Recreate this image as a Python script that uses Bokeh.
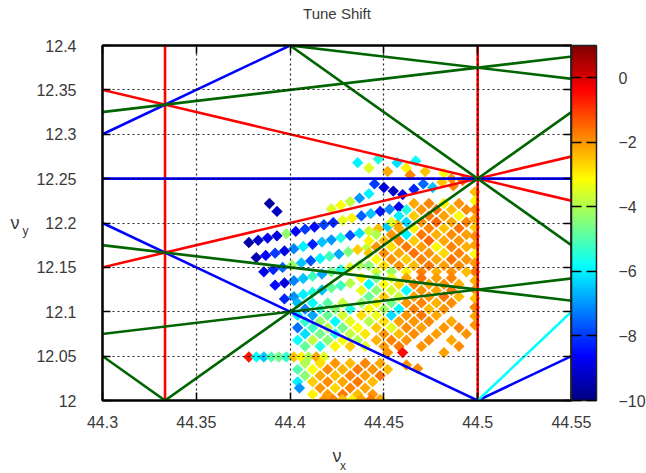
import numpy as np
from bokeh.plotting import figure
from bokeh.models import (ColumnDataSource, LinearColorMapper, ColorBar, FixedTicker,
                          LinearAxis, Range1d)
from bokeh.transform import transform
from bokeh.embed import file_html
from bokeh.resources import INLINE

# ---------------------------------------------------------------- axes
x_ticks = [44.3, 44.35, 44.4, 44.45, 44.5, 44.55]
x_tick_labels = ["44.3", "44.35", "44.4", "44.45", "44.5", "44.55"]
y_ticks = [12.0, 12.05, 12.1, 12.15, 12.2, 12.25, 12.3, 12.35, 12.4]
y_tick_labels = ["12", "12.05", "12.1", "12.15", "12.2", "12.25", "12.3", "12.35", "12.4"]
cbar_ticks = [-10, -8, -6, -4, -2, 0]
cbar_low, cbar_high = -10, 1

# ---------------------------------------------------------------- resonance lines  a*nux + b*nuy = c
res_a = [3, 2, 1, 1, 0, 2, 2, 2, 2, 1, -1, 3, 3, 3, 1, -1]
res_b = [0, 0, 2, -2, 4, -2, 2, -2, -1, 4, 4, 2, -2, 2, 4, 4]
res_c = [133, 89, 69, 20, 49, 64, 113, 65, 77, 94, 5, 158, 109, 157, 93, 4]
res_color = ["red", "red", "red", "red", "blue", "blue", "blue", "blue", "cyan",
             "darkgreen", "darkgreen", "darkgreen", "darkgreen", "darkgreen",
             "darkgreen", "darkgreen"]

# ---------------------------------------------------------------- tune footprint
# upper band (diagonal rows of low-amplitude particles)
band_x = [44.389, 44.393,
          44.378, 44.383, 44.388, 44.393, 44.398, 44.403, 44.408, 44.413, 44.418,
          44.423, 44.428, 44.433, 44.438, 44.443, 44.448, 44.453, 44.458,
          44.382, 44.387, 44.392, 44.397, 44.402, 44.407, 44.412, 44.417,
          44.422, 44.427, 44.432, 44.437, 44.442, 44.447, 44.452, 44.457,
          44.386, 44.391, 44.396, 44.401, 44.406, 44.411, 44.416, 44.421,
          44.426, 44.431, 44.436, 44.441,
          44.392, 44.397, 44.402, 44.407, 44.412, 44.417, 44.422, 44.427,
          44.432, 44.437,
          44.397, 44.402, 44.407, 44.412, 44.417, 44.422, 44.427, 44.432]
band_y = [12.222, 12.213,
          12.178, 12.1805, 12.183, 12.1855, 12.188, 12.1905, 12.193, 12.1955, 12.198,
          12.2005, 12.203, 12.2055, 12.208, 12.2105, 12.213, 12.2155, 12.218,
          12.161, 12.1635, 12.166, 12.1685, 12.171, 12.1735, 12.176, 12.1785,
          12.181, 12.1835, 12.186, 12.1885, 12.191, 12.1935, 12.196, 12.1985,
          12.145, 12.1475, 12.150, 12.1525, 12.155, 12.1575, 12.160, 12.1625,
          12.165, 12.1675, 12.170, 12.1725,
          12.130, 12.1325, 12.135, 12.1375, 12.140, 12.1425, 12.145, 12.1475,
          12.150, 12.1525,
          12.1145, 12.117, 12.1195, 12.122, 12.1245, 12.127, 12.1295, 12.132]
band_v = [-9.6, -9.3,
          -9.6, -9.2, -8.8, -9.0, -4.3, -8.7, -8.0, -8.5, -7.9,
          -8.2, -3.4, -3.0, -7.6, -6.5, -8.4, -7.2, -8.8,
          -9.4, -8.6, -8.0, -8.9, -7.2, -6.0, -8.3, -6.5,
          -7.0, -5.6, -7.8, -6.2, -3.6, -2.4, -6.4, -2.2,
          -8.8, -8.2, -7.5, -4.2, -6.5, -7.8, -6.0, -5.2,
          -6.8, -4.5, -2.6, -3.8,
          -8.5, -9.0, -7.2, -6.5, -5.2, -6.8, -4.6, -5.5,
          -3.4, -4.0,
          -8.2, -7.0, -6.0, -5.5, -6.5, -4.8, -5.2, -3.9]

# particles above the coupling line, below nux + 2 nuy = 69
top_x = [44.436, 44.442, 44.447, 44.452, 44.457, 44.462, 44.467, 44.464, 44.472,
         44.482, 44.445, 44.450, 44.455, 44.460, 44.466, 44.471, 44.476, 44.442,
         44.437, 44.432, 44.427, 44.422, 44.481, 44.486, 44.487, 44.492]
top_y = [12.268, 12.262, 12.272, 12.258, 12.268, 12.262, 12.270, 12.254, 12.258,
         12.256, 12.244, 12.240, 12.236, 12.232, 12.238, 12.244, 12.240, 12.233,
         12.228, 12.224, 12.220, 12.216, 12.246, 12.250, 12.242, 12.248]
top_v = [-6.0, -3.5, -5.5, -2.2, -6.2, -3.0, -5.8, -1.8, -2.5,
         -3.2, -8.0, -8.8, -9.2, -9.0, -8.2, -7.5, -6.5, -6.0,
         -7.0, -3.8, -3.2, -3.5, -2.5, -2.0, -1.8, -1.5]

# particles sitting on the half-integer line nux = 44.5
col_x = [44.4985] * 16
col_y = [12.235, 12.225, 12.215, 12.205, 12.195, 12.185, 12.175, 12.165,
         12.155, 12.145, 12.135, 12.125, 12.115, 12.105, 12.095, 12.085]
col_v = [-2.4, -3.0, -1.8, -2.2, -2.6, -1.9, -2.1, -3.2,
         -2.0, -1.7, -2.3, -2.0, -2.5, -1.8, -2.2, -2.0]

# large-amplitude core (right side)
core_x = [44.466, 44.474, 44.482, 44.490,
          44.462, 44.470, 44.478, 44.486, 44.494,
          44.458, 44.466, 44.474, 44.482, 44.490,
          44.454, 44.462, 44.470, 44.478, 44.486, 44.494,
          44.458, 44.466, 44.474, 44.482, 44.490,
          44.446, 44.454, 44.462, 44.470, 44.478, 44.486, 44.494,
          44.442, 44.450, 44.458, 44.466, 44.474, 44.482, 44.490,
          44.446, 44.454, 44.462, 44.470, 44.478, 44.486, 44.494,
          44.442, 44.450, 44.458, 44.466, 44.474, 44.482, 44.490,
          44.446, 44.454, 44.462, 44.470, 44.478, 44.486, 44.494,
          44.442, 44.450, 44.458, 44.466, 44.474, 44.482, 44.490,
          44.446, 44.454, 44.462, 44.470, 44.478, 44.486, 44.494,
          44.438, 44.446, 44.454, 44.462, 44.470, 44.478, 44.486,
          44.442, 44.450, 44.458, 44.466, 44.474, 44.482, 44.490,
          44.438, 44.446, 44.454, 44.462, 44.470, 44.478, 44.486,
          44.442, 44.450, 44.458, 44.466, 44.474, 44.482, 44.490,
          44.438, 44.446, 44.454, 44.462, 44.470, 44.478, 44.486,
          44.442, 44.450, 44.458, 44.466, 44.474, 44.482,
          44.438, 44.446, 44.454, 44.462, 44.470, 44.478,
          44.442, 44.450, 44.458, 44.466, 44.474, 44.486,
          44.446, 44.454, 44.462, 44.470, 44.482, 44.490,
          44.450, 44.458, 44.466, 44.478, 44.494,
          44.446, 44.454, 44.462, 44.474, 44.486,
          44.450, 44.458, 44.470, 44.490,
          44.452, 44.460, 44.482]
core_y = [12.222] * 4 + [12.215] * 5 + [12.208] * 5 + [12.201] * 6 + [12.194] * 5 + \
         [12.187] * 7 + [12.180] * 7 + [12.173] * 7 + [12.166] * 7 + [12.159] * 7 + \
         [12.152] * 7 + [12.145] * 7 + [12.138] * 7 + [12.131] * 7 + [12.124] * 7 + \
         [12.117] * 7 + [12.110] * 7 + [12.103] * 6 + [12.096] * 6 + [12.089] * 6 + \
         [12.082] * 6 + [12.075] * 5 + [12.068] * 5 + [12.061] * 4 + [12.054] * 3
core_v = [-2.2, -1.8, -3.0, -2.0,
          -5.5, -2.0, -1.6, -2.4, -1.9,
          -6.0, -2.6, -1.7, -2.1, -3.2,
          -3.5, -6.3, -2.0, -1.5, -2.2, -1.8,
          -2.2, -3.0, -1.8, -2.5, -1.6,
          -4.0, -2.0, -6.0, -1.7, -2.3, -1.9, -2.1,
          -3.0, -2.4, -1.8, -2.6, -1.5, -2.2, -2.0,
          -2.0, -2.8, -1.7, -2.1, -3.1, -1.8, -2.3,
          -2.5, -1.9, -2.2, -1.6, -2.0, -2.7, -1.8,
          -3.2, -2.0, -2.6, -1.8, -2.2, -1.6, -2.0,
          -4.4, -2.8, -2.0, -2.4, -1.7, -2.1, -1.9,
          -3.6, -4.2, -3.0, -1.8, -2.3, -2.0, -2.4,
          -3.0, -4.6, -3.4, -2.2, -1.6, -2.1, -1.8,
          -5.8, -3.2, -2.7, -1.8, -2.2, -1.9, -2.3,
          -3.4, -4.4, -3.6, -5.8, -2.0, -2.2, -1.7,
          -4.8, -2.6, -3.8, -2.1, -2.0, -1.6, -2.4,
          -4.2, -3.0, -4.6, -2.0, -1.8, -2.3, -1.9,
          -3.2, -4.1, -5.9, -1.8, -2.4, -2.0,
          -2.8, -3.3, -6.2, -2.0, -1.7, -2.2,
          -3.9, -2.8, -2.1, -2.0, -1.9, -2.2,
          -2.6, -3.4, -1.9, -2.1, -2.0, -1.8,
          -2.0, -2.4, -1.9, -2.1, -2.0,
          -2.3, -1.8, -2.0, -1.9, -2.2,
          -2.1, -1.7, -2.0, -1.9,
          -2.0, -0.5, -2.1]

# intermediate amplitudes (middle, cyan / green)
mid_x = [44.404, 44.412, 44.420, 44.428,
         44.408, 44.416, 44.424, 44.432,
         44.404, 44.412, 44.420, 44.428,
         44.408, 44.416, 44.424, 44.432,
         44.404, 44.412, 44.420, 44.428, 44.436,
         44.408, 44.416, 44.424, 44.432, 44.440,
         44.404, 44.412, 44.420, 44.428, 44.436,
         44.408, 44.416, 44.424, 44.432, 44.440]
mid_y = [12.110] * 4 + [12.103] * 4 + [12.096] * 4 + [12.089] * 4 + \
        [12.082] * 5 + [12.075] * 5 + [12.068] * 5 + [12.061] * 5
mid_v = [-6.6, -5.8, -4.9, -3.8,
         -7.2, -5.4, -4.4, -5.6,
         -6.0, -6.8, -4.8, -3.6,
         -5.4, -4.2, -5.9, -3.4,
         -7.4, -5.2, -3.9, -4.6, -3.2,
         -6.2, -4.6, -5.5, -3.8, -2.9,
         -5.8, -3.8, -4.4, -3.2, -4.0,
         -4.8, -5.6, -3.0, -2.6, -3.5]

# lower part of the footprint (near nuy = 12)
low_x = [44.378, 44.382, 44.386, 44.390, 44.394, 44.398, 44.402, 44.406, 44.410, 44.414, 44.418,
         44.408, 44.416, 44.424, 44.432, 44.440, 44.448, 44.462, 44.468,
         44.404, 44.412, 44.420, 44.428, 44.436, 44.444, 44.452,
         44.408, 44.416, 44.424, 44.432, 44.440, 44.448,
         44.404, 44.412, 44.420, 44.428, 44.436, 44.444,
         44.405, 44.416, 44.424, 44.432, 44.440,
         44.412, 44.420, 44.428, 44.436, 44.444,
         44.418, 44.423, 44.428, 44.433, 44.438, 44.443, 44.448]
low_y = [12.049] * 11 + [12.042] * 6 + [12.040, 12.036] + [12.035] * 7 + [12.028] * 6 + \
        [12.021] * 6 + [12.014] * 5 + [12.007] * 5 + [12.001] * 7
low_v = [-0.6, -5.8, -6.4, -5.0, -4.6, -5.4, -2.5, -3.0, -4.0, -2.2, -3.4,
         -4.0, -2.8, -2.0, -2.4, -1.8, -2.2, -2.0, -1.9,
         -5.0, -3.2, -1.9, -2.3, -1.7, -2.0, -2.4,
         -4.4, -2.2, -2.5, -1.8, -2.1, -1.6,
         -6.0, -2.6, -1.9, -2.2, -1.7, -2.4,
         -7.0, -2.0, -2.7, -1.8, -2.2,
         -3.0, -2.1, -1.7, -2.4, -2.0,
         -2.0, -1.8, -2.4, -3.0, -2.1, -1.7, -2.2]

# ---------------------------------------------------------------- styling helpers
FONT = "Liberation Sans"
TEXT = "#3a3a3a"


def jet_palette(n=256):
    t = np.linspace(0, 1, n)
    r = np.clip(1.5 - np.abs(4 * t - 3), 0, 1)
    g = np.clip(1.5 - np.abs(4 * t - 2), 0, 1)
    b = np.clip(1.5 - np.abs(4 * t - 1), 0, 1)
    return ["#%02x%02x%02x" % (int(round(255 * a)), int(round(255 * c)), int(round(255 * d)))
            for a, c, d in zip(r, g, b)]


mapper = LinearColorMapper(palette=jet_palette(), low=cbar_low, high=cbar_high)

p = figure(frame_width=469, frame_height=355,
           x_range=Range1d(44.3, 44.55), y_range=Range1d(12.0, 12.4),
           output_backend="svg", toolbar_location=None,
           min_border_left=102, min_border_top=45, min_border_bottom=73,
           min_border_right=0)
p.background_fill_color = "white"
p.border_fill_color = "white"
p.outline_line_color = "black"
p.outline_line_width = 2

# footprint
pts = ColumnDataSource(dict(
    x=band_x + top_x + col_x + core_x + mid_x + low_x,
    y=band_y + top_y + col_y + core_y + mid_y + low_y,
    v=band_v + top_v + col_v + core_v + mid_v + low_v,
))
p.scatter("x", "y", source=pts, marker="square", size=8, angle=np.pi / 4,
          fill_color=transform("v", mapper), line_color=None)

# resonance lines
x0, x1 = 44.2, 44.65
sx0, sy0, sx1, sy1 = [], [], [], []
for a, b, c in zip(res_a, res_b, res_c):
    if b == 0:
        sx0.append(c / a); sx1.append(c / a); sy0.append(11.9); sy1.append(12.5)
    else:
        sx0.append(x0); sx1.append(x1)
        sy0.append((c - a * x0) / b); sy1.append((c - a * x1) / b)
lines = ColumnDataSource(dict(x0=sx0, y0=sy0, x1=sx1, y1=sy1, color=res_color))
p.segment("x0", "y0", "x1", "y1", source=lines, line_color="color", line_width=2.6)

# grid on top, dotted
for g in (p.xgrid, p.ygrid):
    g.grid_line_color = "black"
    g.grid_line_dash = "2 3"
    g.grid_line_width = 1.2
    g.grid_line_alpha = 0.85
    g.level = "overlay"
p.xgrid.ticker = FixedTicker(ticks=x_ticks[1:-1])
p.ygrid.ticker = FixedTicker(ticks=y_ticks[1:-1])


def style_axis(ax, ticks, labels):
    ax.ticker = FixedTicker(ticks=ticks)
    ax.major_label_overrides = {t: l for t, l in zip(ticks, labels)}
    ax.major_tick_in = 8
    ax.major_tick_out = 0
    ax.minor_tick_line_color = None
    ax.major_tick_line_color = "black"
    ax.major_tick_line_width = 1.5
    ax.axis_line_color = "black"
    ax.axis_line_width = 2
    ax.major_label_text_font = FONT
    ax.major_label_text_font_size = "16px"
    ax.major_label_text_color = TEXT


def name_axis(text, size):
    """Axis without ticks that only carries a piece of an axis name."""
    ax = LinearAxis(ticker=FixedTicker(ticks=[]), axis_line_color=None,
                    major_tick_line_color=None, minor_tick_line_color=None,
                    major_label_text_font_size="0px", major_label_standoff=0,
                    major_tick_in=0, major_tick_out=0,
                    axis_label=text, axis_label_standoff=0,
                    axis_label_text_font=FONT, axis_label_text_font_size=size,
                    axis_label_text_font_style="normal",
                    axis_label_text_color=TEXT)
    return ax


style_axis(p.xaxis[0], x_ticks, x_tick_labels)
style_axis(p.yaxis[0], y_ticks, y_tick_labels)
p.xaxis.major_label_standoff = 15
p.yaxis.major_label_standoff = 26

# nu_x below the x axis
nu_x = name_axis("ν", "18px")
nu_x.axis_label_standoff = 15
p.add_layout(nu_x, "below")
sub_x = name_axis("\u2003x", "12px")
sub_x.axis_label_standoff = -10
p.add_layout(sub_x, "below")

# nu_y left of the y axis, written horizontally; the subscript sits on a second line
sub_y = name_axis("\u00a0\ny", "12px")
nu_y = name_axis("ν", "18px")
for ax in (sub_y, nu_y):
    try:
        ax.axis_label_orientation = "horizontal"
    except AttributeError:
        pass
sub_y.axis_label_standoff = 5
nu_y.axis_label_standoff = 0
p.add_layout(sub_y, "left")
p.add_layout(nu_y, "left")

# mirrored ticks on top; its axis name serves as the chart title
top_ax = LinearAxis()
style_axis(top_ax, x_ticks, ["" for _ in x_ticks])
top_ax.major_label_text_font_size = "0px"
top_ax.major_label_standoff = 0
top_ax.axis_label = "Tune Shift"
top_ax.axis_label_text_font = FONT
top_ax.axis_label_text_font_size = "15px"
top_ax.axis_label_text_font_style = "normal"
top_ax.axis_label_text_color = TEXT
top_ax.axis_label_standoff = 24
p.add_layout(top_ax, "above")

# mirrored ticks on the right
right_ax = LinearAxis()
style_axis(right_ax, y_ticks, ["" for _ in y_ticks])
right_ax.major_label_text_font_size = "0px"
right_ax.major_label_standoff = 8
p.add_layout(right_ax, "right")

cbar = ColorBar(color_mapper=mapper, ticker=FixedTicker(ticks=cbar_ticks),
                width=25, padding=0, margin=0, label_standoff=22,
                major_label_text_font=FONT, major_label_text_font_size="16px",
                major_label_text_color=TEXT,
                major_tick_line_color="black", major_tick_line_width=1.5,
                major_tick_line_dash="10 5", major_tick_in=25, major_tick_out=0,
                minor_tick_line_color=None,
                bar_line_color="#222222", bar_line_width=1.5,
                border_line_color=None, background_fill_alpha=0)
p.add_layout(cbar, "right")

open("out.html", "w").write(file_html(p, INLINE))
